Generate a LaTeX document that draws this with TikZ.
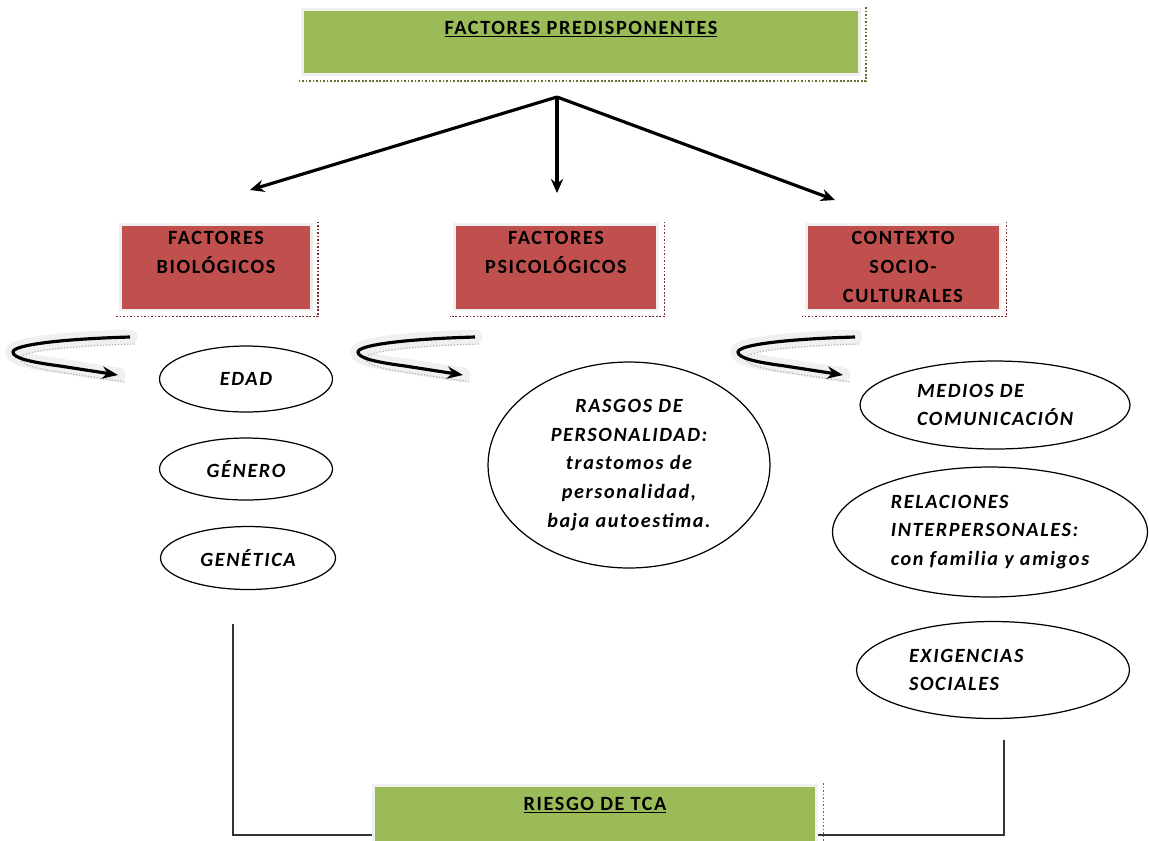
\documentclass[tikz,border=0pt]{standalone}
\usepackage{fontspec}
\setmainfont{Carlito}[LetterSpace=8]
\usetikzlibrary{positioning, arrows.meta, shapes.geometric}

\definecolor{boxgreen}{HTML}{9BBB59}
\definecolor{boxred}{HTML}{C0504D}
\definecolor{shadegreen}{HTML}{5E7530}
\definecolor{shadered}{HTML}{7A2F2D}

\begin{document}
\begin{tikzpicture}[
        x=0.02cm, y=-0.02cm,
        >=Stealth,
        font=\fontsize{11.5}{16.4}\selectfont\bfseries,
        headbox/.style={rectangle, fill=boxgreen, draw=gray!12, line width=1.7pt, align=center, inner sep=0pt},
        factor/.style={rectangle, fill=boxred, draw=gray!12, line width=1.7pt, align=center, inner sep=0pt, minimum height=1.72cm},
        item/.style={ellipse, draw=black, line width=0.7pt, inner sep=0pt, font=\fontsize{11.5}{16.4}\selectfont\bfseries\itshape},
        branch/.style={-{Stealth[length=8pt,width=7pt]}, line width=1.8pt},
        link/.style={line width=0.9pt, draw=black!80},
        glow/.style={line width=0.3cm, draw=gray!12, line cap=round},
        curl/.style={-{Stealth[length=9pt,width=7pt]}, line width=1.8pt},
    ]
    \useasboundingbox (0,0) rectangle (1149,840);

        % Draw the title and the result boxes
        \node[headbox, minimum width=11.14cm, minimum height=1.3cm] (pred) at (581,42) {\underline{FACTORES PREDISPONENTES}\\\mbox{}};
        \node[headbox, minimum width=8.88cm, minimum height=1.3cm] (risk) at (595,818) {\underline{RIESGO DE TCA}\\\mbox{}};

        % Draw the three factor boxes
        \node[factor, minimum width=3.82cm] (bio) at (216,267) {FACTORES\\BIOLÓGICOS\\\mbox{}};
        \node[factor, minimum width=4.08cm] (psico) at (556,267) {FACTORES\\PSICOLÓGICOS\\\mbox{}};
        \node[factor, minimum width=3.88cm] (socio) at (903,267) {CONTEXTO\\SOCIO-\\CULTURALES};

        % Dotted shadows of the boxes
        \foreach \name / \col in {pred/shadegreen, bio/shadered, psico/shadered, socio/shadered, risk/shadegreen}
            \draw[\col, densely dotted, line width=1pt] ([shift={(5,-1)}]\name.north east) -- ([shift={(5,5)}]\name.south east) -- ([shift={(-3,5)}]\name.south west);

        % Draw the items of each factor
        \node[item, minimum width=3.46cm, minimum height=1.32cm] (edad) at (246,379) {EDAD};
        \node[item, minimum width=3.46cm, minimum height=1.24cm] (genero) at (246,469) {GÉNERO};
        \node[item, minimum width=3.5cm, minimum height=1.26cm] (genetica) at (248,558) {GENÉTICA};
        \node[item, minimum width=5.64cm, minimum height=4.12cm, align=center] (rasgos) at (629,465) {RASGOS DE\\PERSONALIDAD:\\trastomos de\\personalidad,\\baja autoestima.};
        \node[item, minimum width=5.4cm, minimum height=1.76cm, align=left] (medios) at (995,405) {MEDIOS DE\\COMUNICACIÓN};
        \node[item, minimum width=6.3cm, minimum height=2.6cm, align=left] (relaciones) at (990,532) {RELACIONES\\INTERPERSONALES:\\con familia y amigos};
        \node[item, minimum width=5.46cm, minimum height=1.94cm, text width=3.36cm, align=left] (exigencias) at (993,670) {EXIGENCIAS\\SOCIALES};

        % Arrows from the title to the factors
        \coordinate (fork) at (557,97);
        \coordinate (toBio) at (250,190);
        \coordinate (toPsico) at (557,193);
        \coordinate (toSocio) at (835,200);
        \foreach \dest in {toBio, toPsico, toSocio}
            \draw[branch] (fork) -- (\dest);

        % Curled arrows in front of the items
        \foreach \dx in {0,345,725} {
            \begin{scope}[shift={(\dx,0)}]
                \draw[glow] (130,337) .. controls (60,339) and (13,345) .. (13,352) .. controls (13,358) and (30,362) .. (60,366) -- (118,375);
                \draw[gray!60, densely dotted, line width=0.7pt] (134,344) .. controls (64,346) and (20,352) .. (20,358) .. controls (20,364) and (36,369) .. (66,373) -- (126,382);
                \draw[curl] (130,337) .. controls (60,339) and (13,345) .. (13,352) .. controls (13,358) and (30,362) .. (60,366) -- (118,375);
            \end{scope}
        }

        % Lines down to the result
        \coordinate (bioDrop) at (233,624);
        \coordinate (socioDrop) at (1004,740);
        \coordinate (base) at (0,835);
        \draw[link] (bioDrop) |- (risk.west |- base);
        \draw[link] (socioDrop) |- (risk.east |- base);
    \end{tikzpicture}
\end{document}
